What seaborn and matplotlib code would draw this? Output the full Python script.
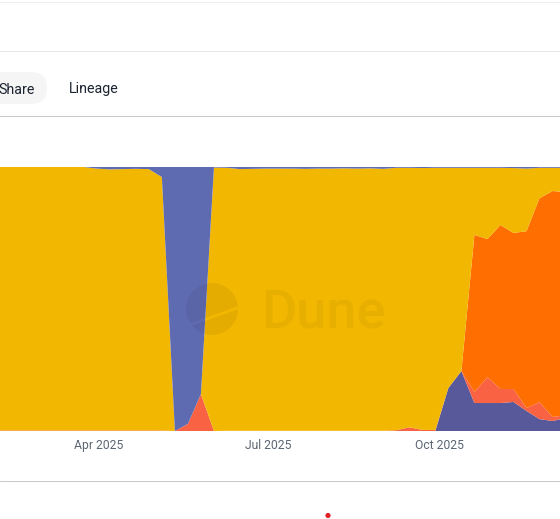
import matplotlib
matplotlib.use('Agg')
import matplotlib.pyplot as plt
import matplotlib.dates as mdates
from matplotlib.lines import Line2D
from matplotlib.patches import Circle, FancyBboxPatch, Polygon
from matplotlib.transforms import Affine2D
import pandas as pd
import seaborn as sns

# weekly shares in %, bottom layer first
weeks = pd.date_range('2025-02-03', '2025-12-08', freq='7D')
purple = [0] * 34 + [0, 16.3, 22.7, 10.6, 10.6, 10.6, 11, 7.6, 4.5, 3.8, 4.9]
red = [0.2] * 14 + [0, 2.7, 14, 0] + [0.1] * 13 + [0.3, 1.4, 0.4, 0.4, 0, 0, 4.2, 9.8, 5.3, 4.9, 1.1, 6.4, 1.5, 1.1]
orange = [0] * 37 + [59.5, 52.3, 62.1, 59.1, 67, 77.3, 85.6, 84.5]
yellow = [99.8] * 8 + [99.2, 98.9, 99.0, 99.1, 99.0, 96, 0, 0, 0, 99.8, 99.6] + \
    [99.1, 99.2, 99.3, 99.3, 99.3, 99.2, 99.3, 99.3, 99.4, 99.3, 99.4, 99.2, 99.4] + \
    [98.3, 99.2, 99.3, 83.4, 77, 25.4, 27, 21.7, 24.6, 23.7, 11.5, 8.8, 9.2]
blue = [0] * 8 + [0.6, 0.9, 0.8, 0.7, 0.8, 3.8, 100, 97.3, 86, 0.2, 0.3] + \
    [0.8, 0.7, 0.6, 0.6, 0.6, 0.7, 0.6, 0.6, 0.5, 0.6, 0.5, 0.7, 0.3] + \
    [0.3, 0.4, 0.3, 0.3, 0.3, 0.3, 0.3, 0.3, 0.4, 0.6, 0.3, 0.3, 0.3]

layer_colors = ['#58599b', '#f96243', '#ff6e00', '#f2b700', '#5f6bb1']
tick_dates = ['2025-04-01', '2025-07-01', '2025-10-01']
tick_labels = ['Apr 2025', 'Jul 2025', 'Oct 2025']

sns.set_theme(style='white')
plt.rcParams['font.family'] = ['Roboto', 'DejaVu Sans']

fig = plt.figure(figsize=(5.6, 5.19), dpi=100, facecolor='white')
ax = fig.add_axes([0, 1 - 431 / 519, 1, 264 / 519])
ax.stackplot(weeks, purple, red, orange, yellow, blue, colors=sns.color_palette(layer_colors), linewidth=0)
ax.set_xlim(pd.Timestamp('2025-02-07'), pd.Timestamp('2025-12-05'))
ax.set_ylim(0, 100)
ax.set_yticks([])
ax.set_xticks(mdates.date2num(pd.to_datetime(tick_dates)))
ax.set_xticklabels(tick_labels, fontsize=8.7, color='#5c6773')
ax.tick_params(axis='x', length=0, pad=6)
sns.despine(ax=ax, left=True, right=True, top=True, bottom=True)

# page chrome, coordinates in image pixels
px = Affine2D().scale(1, -1).translate(0, 519)
for y, c in [(1.5, '#eeeeee'), (50.5, '#e8e8e8'), (115.5, '#c8c8c8'), (480.5, '#c8c8c8')]:
    fig.add_artist(Line2D([0, 560], [y, y], color=c, lw=0.72, transform=px))
fig.add_artist(FancyBboxPatch((-40, 72), 87, 32, boxstyle='round,pad=0,rounding_size=16',
                              fc='#f5f5f5', ec='none', transform=px))
fig.text(34.5, 519 - 88, 'Share', transform=Affine2D(), ha='right', va='center_baseline', fontsize=10.3, color='#1b2230')
fig.text(69, 519 - 88, 'Lineage', transform=Affine2D(), ha='left', va='center_baseline', fontsize=10.3, color='#1b2230')
fig.add_artist(Circle((328, 515.5), 2.6, fc='#e01f26', ec='none', transform=px))

# watermark, logo cut in two by a slit
for corners in ([(180, 327), (240, 305.5), (240, 270), (180, 270)],
                [(180, 330), (240, 308.5), (240, 345), (180, 345)]):
    clip = Polygon(corners, transform=px)
    logo = Circle((212, 309), 26, fc='#000000', alpha=0.055, ec='none', transform=px, zorder=5)
    fig.add_artist(logo)
    logo.set_clip_path(clip)
fig.text(261, 519 - 328, 'Dune', transform=Affine2D(), ha='left', va='baseline', fontsize=39,
         family='Roboto', weight='medium', color='#000000', alpha=0.045, zorder=5)

fig.savefig('out.png', dpi=100)
